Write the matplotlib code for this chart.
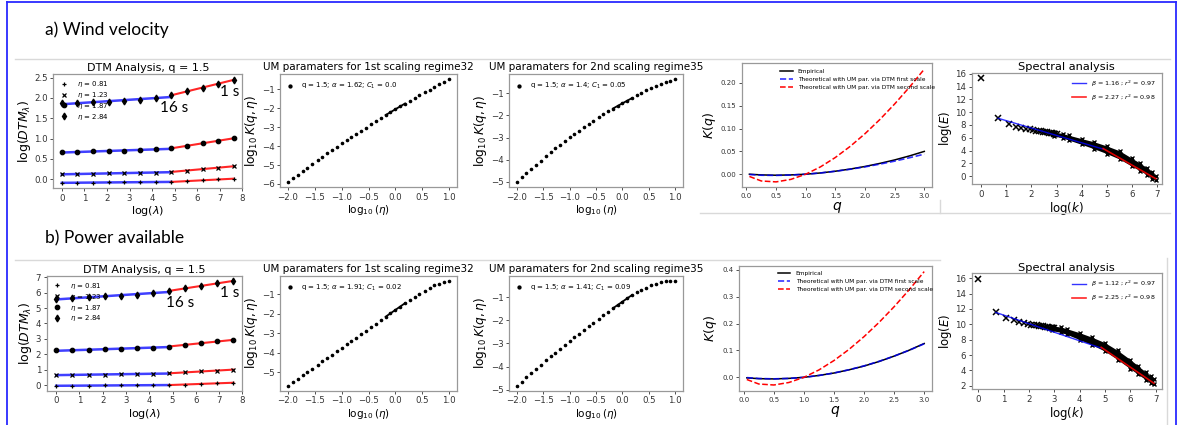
import numpy as np
import matplotlib
matplotlib.use('Agg')
import matplotlib.pyplot as plt
from matplotlib.lines import Line2D

W, H = 1177, 425

# ---- DTM analysis: log(lambda) and log(DTM) per eta ----
log_lam = [0.0, 0.69, 1.39, 2.08, 2.77, 3.47, 4.16, 4.85, 5.55, 6.24, 6.93, 7.62]
eta_labels = [r'$\eta$ = 0.81', r'$\eta$ = 1.23', r'$\eta$ = 1.87', r'$\eta$ = 2.84']

wind_dtm_081 = [-0.09, -0.09, -0.09, -0.08, -0.08, -0.08, -0.07, -0.07, -0.05, -0.03, -0.01, 0.01]
wind_dtm_123 = [0.12, 0.13, 0.13, 0.14, 0.14, 0.15, 0.16, 0.18, 0.21, 0.24, 0.28, 0.32]
wind_dtm_187 = [0.66, 0.67, 0.68, 0.69, 0.70, 0.71, 0.73, 0.76, 0.82, 0.88, 0.94, 1.01]
wind_dtm_284 = [1.87, 1.88, 1.89, 1.90, 1.92, 1.95, 1.99, 2.07, 2.16, 2.25, 2.35, 2.45]

power_dtm_081 = [-0.05, -0.04, -0.04, -0.03, -0.03, -0.02, -0.01, 0.00, 0.03, 0.07, 0.11, 0.15]
power_dtm_123 = [0.65, 0.66, 0.67, 0.68, 0.69, 0.71, 0.73, 0.76, 0.82, 0.88, 0.94, 1.00]
power_dtm_187 = [2.25, 2.26, 2.28, 2.31, 2.34, 2.38, 2.43, 2.50, 2.61, 2.72, 2.83, 2.93]
power_dtm_284 = [5.59, 5.63, 5.70, 5.76, 5.80, 5.86, 5.96, 6.11, 6.28, 6.44, 6.61, 6.76]

# ---- UM parameters: log10(eta) vs log10 K(q, eta) ----
log_eta = [-2.00, -1.91, -1.82, -1.73, -1.64, -1.55, -1.45, -1.36, -1.27, -1.18, -1.09,
           -1.00, -0.91, -0.82, -0.73, -0.64, -0.55, -0.45, -0.36, -0.27, -0.18, -0.09,
           0.00, 0.09, 0.18, 0.27, 0.36, 0.45, 0.55, 0.64, 0.73, 0.82, 0.91, 1.00]

wind_k_1st = [-5.90, -5.71, -5.52, -5.33, -5.14, -4.95, -4.75, -4.57, -4.39, -4.21, -4.03,
              -3.86, -3.69, -3.52, -3.35, -3.18, -3.02, -2.84, -2.68, -2.52, -2.36, -2.20,
              -2.05, -1.90, -1.75, -1.60, -1.46, -1.31, -1.15, -1.01, -0.87, -0.74, -0.60, -0.47]
wind_k_2nd = [-5.00, -4.80, -4.61, -4.41, -4.23, -4.04, -3.84, -3.66, -3.49, -3.32, -3.16,
              -2.99, -2.84, -2.68, -2.53, -2.39, -2.24, -2.09, -1.95, -1.82, -1.69, -1.57,
              -1.45, -1.33, -1.22, -1.09, -0.97, -0.86, -0.76, -0.67, -0.59, -0.51, -0.44, -0.37]
power_k_1st = [-5.68, -5.51, -5.33, -5.16, -4.98, -4.81, -4.61, -4.44, -4.26, -4.09, -3.91,
               -3.74, -3.57, -3.39, -3.22, -3.04, -2.87, -2.67, -2.50, -2.32, -2.15, -1.97,
               -1.80, -1.63, -1.46, -1.29, -1.13, -0.97, -0.82, -0.68, -0.55, -0.45, -0.36, -0.30]
power_k_2nd = [-4.83, -4.65, -4.46, -4.28, -4.10, -3.93, -3.73, -3.56, -3.39, -3.22, -3.06,
               -2.89, -2.73, -2.57, -2.41, -2.25, -2.10, -1.93, -1.78, -1.63, -1.48, -1.33,
               -1.19, -1.05, -0.91, -0.79, -0.68, -0.58, -0.49, -0.41, -0.33, -0.29, -0.28, -0.28]

fit_seg_x = [-0.18, 0.18]
wind_seg_1st = [-2.36, -1.75]
wind_seg_2nd = [-1.69, -1.22]
power_seg_1st = [-2.15, -1.46]
power_seg_2nd = [-1.48, -0.91]

wind_um_1st_label = r'q = 1.5; $\alpha$ = 1.62; $C_1$ = 0.0'
wind_um_2nd_label = r'q = 1.5; $\alpha$ = 1.4; $C_1$ = 0.05'
power_um_1st_label = r'q = 1.5; $\alpha$ = 1.91; $C_1$ = 0.02'
power_um_2nd_label = r'q = 1.5; $\alpha$ = 1.41; $C_1$ = 0.09'

# ---- K(q) curves ----
q_vals = [0.05, 0.25, 0.5, 0.75, 1.0, 1.25, 1.5, 1.75, 2.0, 2.25, 2.5, 2.75, 3.0]
wind_kq_emp = [0.0, -0.0015, -0.0022, -0.0015, 0.0, 0.0028, 0.0066, 0.0113, 0.0170, 0.0237, 0.0313, 0.0401, 0.0500]
wind_kq_1st = [-0.0006, -0.0022, -0.0026, -0.0018, 0.0, 0.0028, 0.0065, 0.0109, 0.0161, 0.0221, 0.0287, 0.0361, 0.0440]
wind_kq_2nd = [-0.0049, -0.0148, -0.0168, -0.0113, 0.0, 0.0162, 0.0367, 0.0610, 0.0888, 0.1198, 0.1539, 0.1907, 0.2302]
power_kq_emp = [-0.002, -0.005, -0.006, -0.004, 0.0, 0.007, 0.016, 0.028, 0.042, 0.059, 0.079, 0.101, 0.126]
power_kq_1st = [-0.0011, -0.0044, -0.0057, -0.0042, 0.0, 0.0068, 0.0162, 0.0282, 0.0427, 0.0596, 0.0790, 0.1008, 0.1250]
power_kq_2nd = [-0.0082, -0.0250, -0.0286, -0.0193, 0.0, 0.0276, 0.0626, 0.1041, 0.1517, 0.2048, 0.2631, 0.3262, 0.3940]

# ---- Spectral analysis ----
log_k = [0.0, 0.69, 1.10, 1.39, 1.61, 1.79, 1.95, 2.08, 2.20, 2.30,
         2.40, 2.48, 2.56, 2.64, 2.71, 2.77, 2.83, 2.89, 2.94, 3.00]
wind_logE = [15.3, 9.05, 8.15, 7.75, 7.5, 7.38, 7.3, 7.2, 7.12, 7.05,
             7.0, 6.95, 6.9, 6.85, 6.8, 6.75, 6.7, 6.65, 6.6, 6.55]
power_logE = [15.85, 11.55, 10.85, 10.5, 10.3, 10.15, 10.05, 9.95, 9.9, 9.85,
              9.8, 9.75, 9.72, 9.68, 9.64, 9.6, 9.57, 9.54, 9.5, 9.47]
band_x = [2.9, 3.25, 3.5, 4.0, 4.5, 5.0, 5.5, 6.0, 6.3, 6.6, 6.8, 6.93]
wind_band_lo = [6.3, 5.95, 5.62, 4.95, 4.25, 3.5, 2.65, 1.5, 0.85, 0.15, -0.4, -0.65]
wind_band_hi = [6.9, 6.65, 6.38, 5.85, 5.35, 4.7, 3.95, 2.75, 2.05, 1.25, 0.6, 0.05]
power_band_lo = [9.2, 8.95, 8.68, 8.0, 7.3, 6.5, 5.4, 4.2, 3.5, 2.8, 2.35, 2.2]
power_band_hi = [9.8, 9.65, 9.42, 8.9, 8.3, 7.6, 6.6, 5.4, 4.6, 3.8, 3.25, 2.85]

fit1_x = [0.69, 4.85]
fit2_x = [4.85, 6.93]
wind_fit1 = [9.05, 4.22]
wind_fit2 = [4.30, -0.42]
power_fit1 = [11.55, 6.90]
power_fit2 = [7.00, 2.32]
wind_spec_labels = [r'$\beta$ = 1.16 ; $r^2$ = 0.97', r'$\beta$ = 2.27 ; $r^2$ = 0.98']
power_spec_labels = [r'$\beta$ = 1.12 ; $r^2$ = 0.97', r'$\beta$ = 2.25 ; $r^2$ = 0.98']


def box(l, r, t, b):
    return [l / W, 1 - b / H, (r - l) / W, (b - t) / H]


def style(ax, size=6.2):
    for s in ax.spines.values():
        s.set_color('0.6')
        s.set_linewidth(0.9)
    ax.tick_params(labelsize=size, length=2.5, width=0.6, pad=1.5, colors='0.2')


def dtm_panel(ax, series, xlim, ylim, yticks, t16, t1):
    markers = ['+', 'x', 'o', 'd']
    sizes = [3, 2.8, 3.2, 3.5]
    for vals, mk, ms, lab in zip(series, markers, sizes, eta_labels):
        x = np.array(log_lam)
        y = np.array(vals)
        p1 = np.polyfit(x[:8], y[:8], 1)
        p2 = np.polyfit(x[7:], y[7:], 1)
        ax.plot(x[:8], np.polyval(p1, x[:8]), color='blue', lw=1.8, alpha=0.75, zorder=2)
        ax.plot(x[7:], np.polyval(p2, x[7:]), color='red', lw=1.5, alpha=0.85, zorder=2)
        ax.plot(x, y, ls='none', marker=mk, ms=ms, mew=0.9, color='k', label=lab, zorder=3)
    ax.set_xlim(*xlim)
    ax.set_ylim(*ylim)
    ax.set_xticks(range(0, 9))
    ax.set_yticks(yticks)
    ax.set_title('DTM Analysis, q = 1.5', fontsize=8, pad=2)
    ax.set_xlabel(r'$\log(\lambda)$', fontsize=8, labelpad=1)
    ax.set_ylabel(r'$\log(DTM_\lambda)$', fontsize=9, labelpad=1)
    ax.legend(loc='upper left', fontsize=5, frameon=False, handlelength=1.6,
              labelspacing=0.12, borderaxespad=0.35, handletextpad=1.0)
    ax.text(t16[0], t16[1], '16 s', fontsize=11, family='Lato', va='center')
    ax.text(t1[0], t1[1], '1 s', fontsize=11, family='Lato', va='center')
    style(ax)


def um_panel(ax, title, vals, seg, label, ylim, yticks):
    ax.plot(log_eta, vals, ls='none', marker='o', ms=1.6, color='k', label=label)
    ax.plot(fit_seg_x, seg, color='k', lw=1.3)
    ax.set_xlim(-2.15, 1.15)
    ax.set_ylim(*ylim)
    ax.set_xticks([-2.0, -1.5, -1.0, -0.5, 0.0, 0.5, 1.0])
    ax.set_xticklabels(['\u22122.0', '\u22121.5', '\u22121.0', '\u22120.5', '0.0', '0.5', '1.0'])
    ax.set_yticks(yticks)
    ax.set_title(title, fontsize=7.5, pad=3)
    ax.set_xlabel(r'$\log_{10}(\eta)$', fontsize=7.5, labelpad=1)
    ax.set_ylabel(r'$\log_{10}K(q,\eta)$', fontsize=8.8, labelpad=1)
    ax.legend(loc='upper left', fontsize=5, frameon=False, handlelength=1.0,
              handletextpad=1.0, borderaxespad=0.6, markerscale=1.3)
    style(ax)


def kq_panel(ax, emp, first, second, ylim, yticks, fmt):
    ax.plot(q_vals, emp, color='k', lw=1.1, label='Empirical')
    ax.plot(q_vals, first, color='blue', ls='--', lw=1.2, alpha=0.8,
            label='Theoretical with UM par. via DTM first scale')
    ax.plot(q_vals, second, color='red', ls='--', lw=1.1,
            label='Theoretical with UM par. via DTM second scale')
    ax.set_xlim(-0.08, 3.13)
    ax.set_ylim(*ylim)
    ax.set_xticks([0.0, 0.5, 1.0, 1.5, 2.0, 2.5, 3.0])
    ax.set_xticklabels(['0.0', '0.5', '1.0', '1.5', '2.0', '2.5', '3.0'])
    ax.set_yticks(yticks)
    ax.set_yticklabels([fmt.format(v) for v in yticks])
    ax.set_xlabel(r'$q$', fontsize=10, labelpad=1)
    ax.set_ylabel(r'$K(q)$', fontsize=9, labelpad=2)
    ax.legend(loc='upper left', bbox_to_anchor=(0.175, 1.0), fontsize=4.2, frameon=False,
              handlelength=2.1, handletextpad=0.9, labelspacing=0.5)
    style(ax, size=5)


def spec_panel(ax, logE, lo, hi, f1, f2, labels, xlim, ylim, yticks):
    ax.fill_between(band_x, lo, hi, color='k', lw=0)
    ax.plot(band_x, lo, ls='none', marker='x', ms=3.2, mew=1, color='k')
    ax.plot(band_x, hi, ls='none', marker='x', ms=3.2, mew=1, color='k')
    ax.plot(log_k, logE, ls='none', marker='x', ms=4.5, mew=1.1, color='k')
    ax.plot(fit1_x, f1, color='blue', lw=1.0, alpha=0.8, label=labels[0])
    ax.plot(fit2_x, f2, color='red', lw=1.2, alpha=0.85, label=labels[1])
    ax.set_xlim(*xlim)
    ax.set_ylim(*ylim)
    ax.set_xticks(range(0, 8))
    ax.set_yticks(yticks)
    ax.set_title('Spectral analysis', fontsize=8.2, pad=2)
    ax.set_xlabel(r'$\log(k)$', fontsize=8.5, labelpad=1)
    ax.set_ylabel(r'$\log(E)$', fontsize=8.5, labelpad=0.5)
    ax.legend(loc='upper right', fontsize=4.6, frameon=False, handlelength=2.2,
              labelspacing=0.6)
    style(ax)


fig = plt.figure(figsize=(W / 100, H / 100), dpi=100)


def hline(y, x0, x1, color='0.85', lw=1.0):
    fig.add_artist(Line2D([x0 / W, x1 / W], [1 - y / H, 1 - y / H], color=color, lw=lw))


def vline(x, y0, y1, color='0.85', lw=1.0):
    fig.add_artist(Line2D([x / W, x / W], [1 - y0 / H, 1 - y1 / H], color=color, lw=lw))


# slide frame and separators
hline(1.5, 6.5, 1175.5, color='#2a2aff', lw=1.3)
vline(6.5, 1.5, 425, color='#2a2aff', lw=1.3)
vline(1175.5, 1.5, 425, color='#2a2aff', lw=1.3)
hline(59, 15, 1170)
hline(213, 700, 1170)
vline(940, 200, 213)
hline(260, 15, 940)
vline(1167, 258, 425)

fig.text(45 / W, 1 - 30 / H, 'a) Wind velocity', family='Lato', fontsize=12.5, va='center')
fig.text(45 / W, 1 - 238 / H, 'b) Power available', family='Lato', fontsize=12.5, va='center')

# row a
ax = fig.add_axes(box(53.3, 242.3, 74, 188))
dtm_panel(ax, [wind_dtm_081, wind_dtm_123, wind_dtm_187, wind_dtm_284],
          (-0.38, 8.0), (-0.22, 2.59), [0.0, 0.5, 1.0, 1.5, 2.0, 2.5], (4.35, 1.76), (7.0, 2.15))
ax.set_yticklabels(['0.0', '0.5', '1.0', '1.5', '2.0', '2.5'])

ax = fig.add_axes(box(280, 457, 74, 187))
um_panel(ax, 'UM paramaters for 1st scaling regime32', wind_k_1st, wind_seg_1st,
         wind_um_1st_label, (-6.16, -0.19), [-6, -5, -4, -3, -2, -1])

ax = fig.add_axes(box(509, 683, 74, 187))
um_panel(ax, 'UM paramaters for 2nd scaling regime35', wind_k_2nd, wind_seg_2nd,
         wind_um_2nd_label, (-5.23, -0.13), [-5, -4, -3, -2, -1])

ax = fig.add_axes(box(741.7, 932, 63.3, 187))
kq_panel(ax, wind_kq_emp, wind_kq_1st, wind_kq_2nd, (-0.028, 0.243),
         [0.0, 0.05, 0.10, 0.15, 0.20], '{:.2f}')

ax = fig.add_axes(box(971.7, 1162, 72.7, 184.3))
spec_panel(ax, wind_logE, wind_band_lo, wind_band_hi, wind_fit1, wind_fit2, wind_spec_labels,
           (-0.36, 7.18), (-1.3, 16.2), list(range(0, 17, 2)))

# row b
ax = fig.add_axes(box(46.7, 242.3, 275.7, 390.7))
dtm_panel(ax, [power_dtm_081, power_dtm_123, power_dtm_187, power_dtm_284],
          (-0.41, 8.0), (-0.37, 7.1), list(range(0, 8)), (4.7, 5.3), (7.02, 5.96))

ax = fig.add_axes(box(280, 457, 275.7, 390.7))
um_panel(ax, 'UM paramaters for 1st scaling regime32', power_k_1st, power_seg_1st,
         power_um_1st_label, (-5.94, -0.05), [-5, -4, -3, -2, -1])

ax = fig.add_axes(box(509, 683, 275.7, 390.7))
um_panel(ax, 'UM paramaters for 2nd scaling regime35', power_k_2nd, power_seg_2nd,
         power_um_2nd_label, (-5.04, -0.07), [-5, -4, -3, -2, -1])

ax = fig.add_axes(box(739, 932, 265.7, 391))
kq_panel(ax, power_kq_emp, power_kq_1st, power_kq_2nd, (-0.051, 0.416),
         [0.0, 0.1, 0.2, 0.3, 0.4], '{:.1f}')

ax = fig.add_axes(box(971.7, 1162, 273.3, 389.3))
spec_panel(ax, power_logE, power_band_lo, power_band_hi, power_fit1, power_fit2, power_spec_labels,
           (-0.26, 7.25), (1.53, 16.65), list(range(2, 17, 2)))

fig.savefig('out.png', dpi=100, facecolor='white')
